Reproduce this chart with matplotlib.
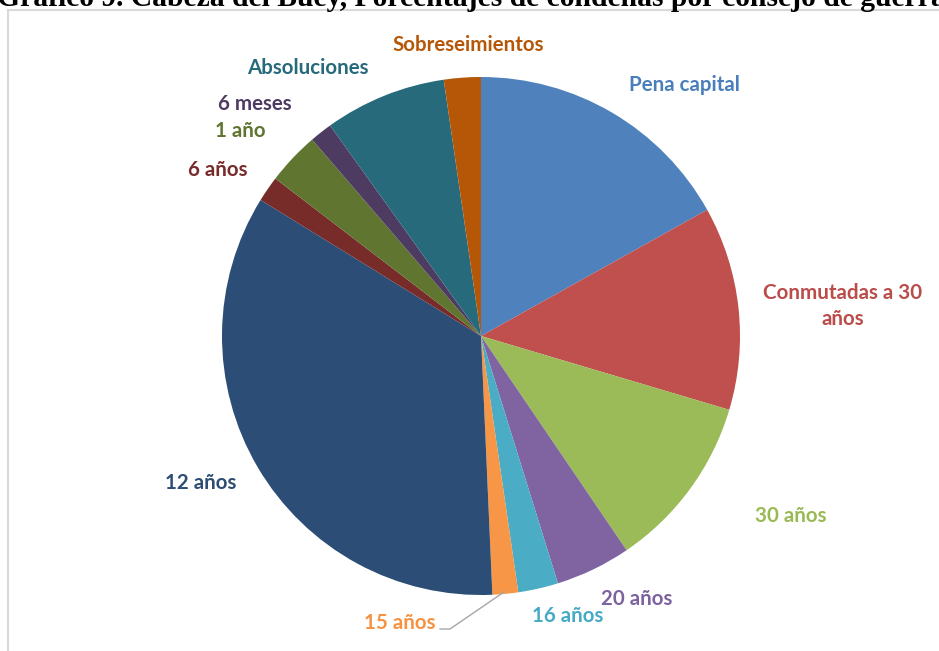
import matplotlib.pyplot as plt
from matplotlib.patches import Rectangle

# slice data (percent)
labels = ['Pena capital', 'Conmutadas a 30\naños', '30 años', '20 años', '16 años',
          '15 años', '12 años', '6 años', '1 año', '6 meses', 'Absoluciones',
          'Sobreseimientos']
values = [16.9, 12.7, 10.9, 4.7, 2.5, 1.6, 34.5, 1.6, 3.3, 1.4, 7.6, 2.3]
colors = ['#4F81BD', '#C0504D', '#9BBB59', '#8064A2', '#4BACC6', '#F79646',
          '#2C4D75', '#772C2A', '#5F7530', '#4D3B62', '#276A7C', '#B65708']
text_colors = ['#4A7EBB', '#BA4C4A', '#98B954', '#7D62A0', '#46AAC5', '#F69240',
               '#2E4D73', '#772C2A', '#5F7530', '#4D3B62', '#276A7C', '#B65708']
# label centres in pixels (x, y from top)
label_pos = [(684, 85), (843, 306), (791, 516), (637, 599), (568, 616), (400, 623),
             (201, 483), (218, 170), (240, 131), (255, 104), (308, 68), (468, 45)]

W, H = 939, 651
fig = plt.figure(figsize=(W / 100, H / 100), dpi=100)
ax = fig.add_axes([0, 0, 1, 1])

# outer frame of the chart area
ax.add_patch(Rectangle((8, -5), W + 10, H - 10 + 5, fill=False,
                       edgecolor='#d9d9d9', linewidth=1.5, zorder=0))

ax.pie(values, colors=colors, startangle=90, counterclock=False,
       center=(481, H - 336), radius=259,
       wedgeprops=dict(linewidth=0))

for lab, (x, y), c in zip(labels, label_pos, text_colors):
    ax.text(x, H - y, lab, color=c, fontsize=14.8, fontweight='bold',
            family='Lato', ha='center', va='center', linespacing=1.35)

# leader line for 15 años
ax.plot([440, 450, 504], [H - 629, H - 629, H - 592], color='#a6a6a6', lw=1)

# title, cut at the top edge as in the source
ax.text(-3, H - 6, 'Gráfico 9. Cabeza del Buey, Porcentajes de condenas por consejo de guerra',
        family='Liberation Serif', fontweight='bold', fontsize=21.3,
        ha='left', va='baseline', color='black')

ax.set_xlim(0, W)
ax.set_ylim(0, H)
ax.set_aspect('auto')
ax.set_axis_off()
fig.savefig('out.png', dpi=100)
